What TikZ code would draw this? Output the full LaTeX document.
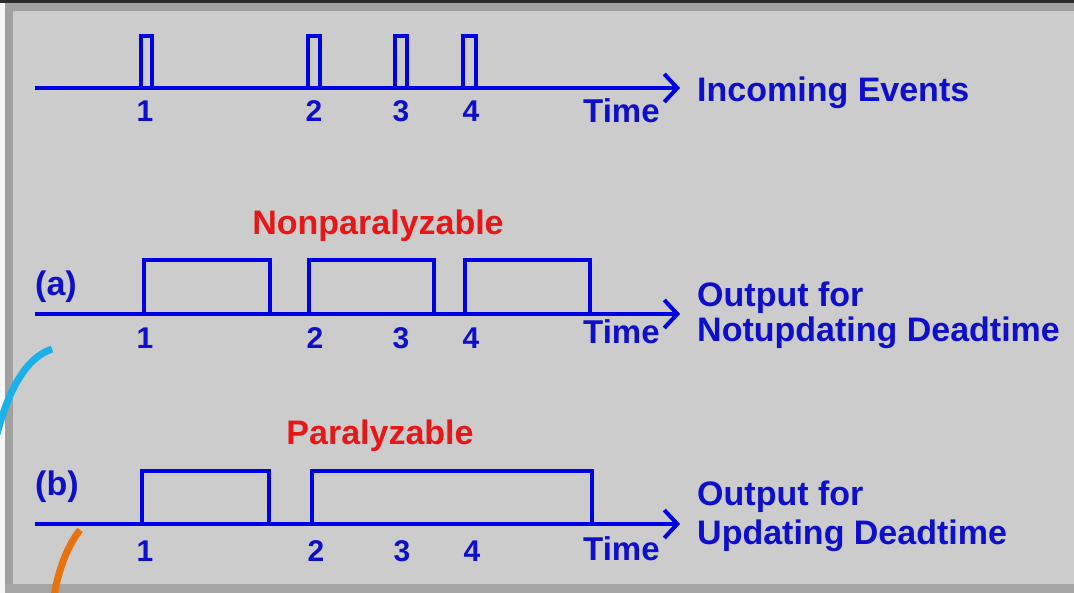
\documentclass[tikz,border=0pt]{standalone}
\usepackage{fontspec}
\setmainfont{Liberation Sans}
\usetikzlibrary{arrows.meta}
\definecolor{panel}{RGB}{204,204,204}
\definecolor{bevel}{RGB}{160,160,160}
\definecolor{rim}{RGB}{42,42,42}
\definecolor{sig}{RGB}{0,0,228}
\definecolor{ink}{RGB}{14,14,205}
\definecolor{hot}{RGB}{232,22,22}
\definecolor{skyink}{RGB}{26,176,232}
\definecolor{orangeink}{RGB}{232,114,14}
\tikzset{
  axis/.style={draw=sig, line width=4pt, -{Straight Barb[length=13pt,width=28pt]}},
  wave/.style={draw=sig, line width=4pt, line join=miter},
  lbl/.style={text=ink, font=\fontsize{34}{40}\selectfont\bfseries, inner sep=0pt, anchor=base west},
  timelbl/.style={text=ink, font=\fontsize{33}{40}\selectfont\bfseries, inner sep=0pt, anchor=base west},
  num/.style={text=ink, font=\fontsize{30}{36}\selectfont\bfseries, inner sep=0pt, anchor=base},
  heading/.style={text=hot, font=\fontsize{34}{40}\selectfont\bfseries, inner sep=0pt, anchor=base},
  stroke/.style={line width=7pt, line cap=butt}
}
\begin{document}
\begin{tikzpicture}[x=1pt,y=-1pt]
\useasboundingbox (0,0) rectangle (1074,593);
\clip (0,0) rectangle (1074,593);
% panel with bevelled frame
\fill[panel] (0,0) rectangle (1074,593);
\fill[bevel] (0,3) rectangle (1074,11);
\fill[bevel] (5,3) rectangle (13,593);
\fill[bevel!95!white] (0,584) rectangle (1074,593);
\fill[white!85!panel] (0,3) rectangle (5,593);
\fill[rim] (0,0) rectangle (1074,3);

% ---- incoming events ----
\coordinate (e0) at (35,88);
\coordinate (e1) at (680,88);
\draw[axis] (e0) -- (e1);
\draw[wave] (141,88) |- (152,36) -- (152,88);
\draw[wave] (308,88) |- (320,36) -- (320,88);
\draw[wave] (395,88) |- (407,36) -- (407,88);
\draw[wave] (463,88) |- (476,36) -- (476,88);
\node[num] (e1n) at (145,122) {1};
\node[num] (e2n) at (314,122) {2};
\node[num] (e3n) at (401,122) {3};
\node[num] (e4n) at (471,122) {4};
\node[timelbl] (etime) at (583,123) {Time};
\node[lbl] (ein) at (697,102) {Incoming Events};

% ---- (a) nonparalyzable ----
\node[heading] (ahead) at (378,235) {Nonparalyzable};
\node[lbl] (alab) at (35,296) {(a)};
\coordinate (a0) at (35,314);
\coordinate (a1) at (680,314);
\draw[axis] (a0) -- (a1);
\draw[wave] (144,314) |- (270,260) -- (270,314);
\draw[wave] (309,314) |- (434,260) -- (434,314);
\draw[wave] (465,314) |- (590,260) -- (590,314);
\node[num] (a1n) at (145,349) {1};
\node[num] (a2n) at (315,349) {2};
\node[num] (a3n) at (401,349) {3};
\node[num] (a4n) at (471,349) {4};
\node[timelbl] (atime) at (583,344) {Time};
\node[lbl] (aout1) at (697,307) {Output for};
\node[lbl] (aout2) at (697,342) {Notupdating Deadtime};

% ---- (b) paralyzable ----
\node[heading] (bhead) at (380,445) {Paralyzable};
\node[lbl] (blab) at (35,496) {(b)};
\coordinate (b0) at (35,524);
\coordinate (b1) at (680,524);
\draw[axis] (b0) -- (b1);
\draw[wave] (142,524) |- (269,471) -- (269,524);
\draw[wave] (312,524) |- (592,471) -- (592,524);
\node[num] (b1n) at (145,561) {1};
\node[num] (b2n) at (316,561) {2};
\node[num] (b3n) at (402,561) {3};
\node[num] (b4n) at (472,561) {4};
\node[timelbl] (btime) at (583,560) {Time};
\node[lbl] (bout1) at (697,505) {Output for};
\node[lbl] (bout2) at (697,544) {Updating Deadtime};

% ---- pen strokes ----
\draw[stroke, skyink] (52,349) .. controls (25,358) and (8,392) .. (-3,434);
\draw[stroke, orangeink] (80,530) .. controls (68,545) and (58,570) .. (54,597);
\end{tikzpicture}
\end{document}
